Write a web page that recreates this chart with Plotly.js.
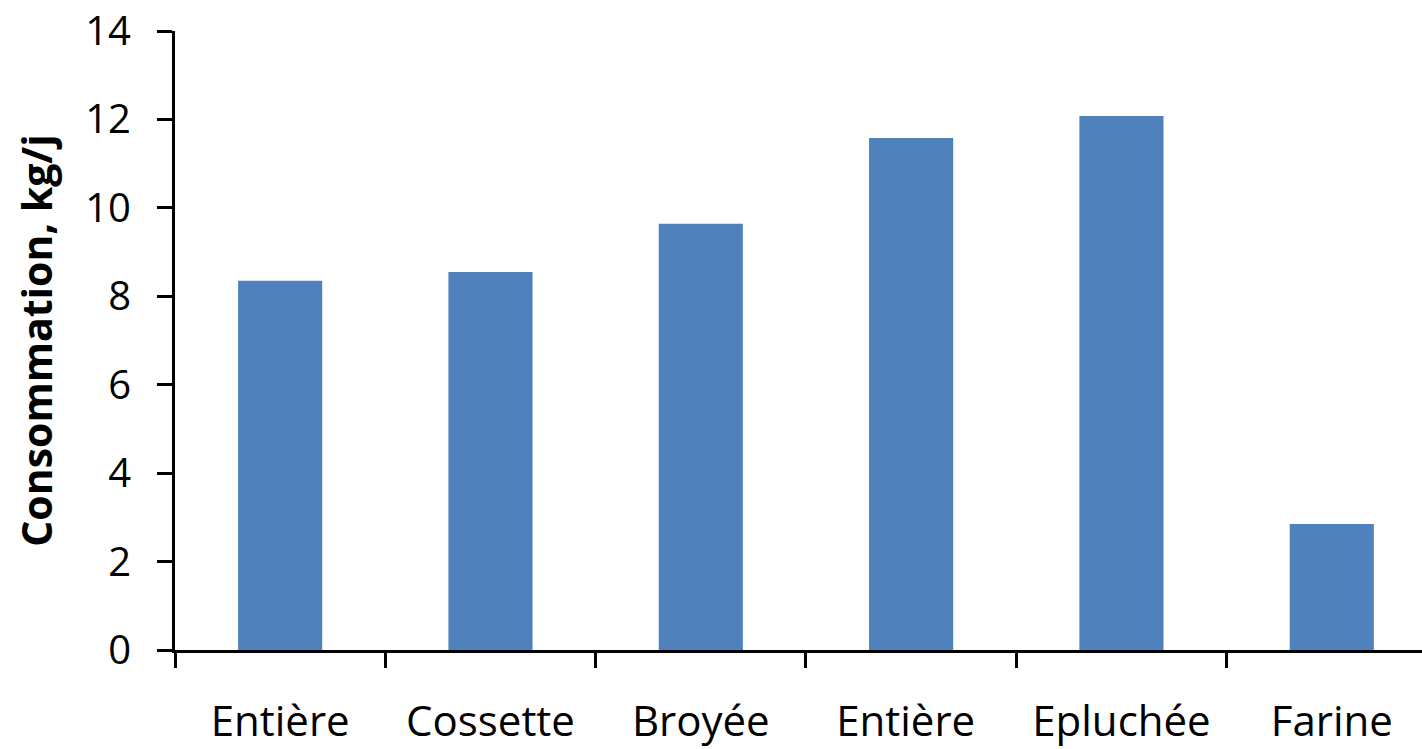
<!DOCTYPE html>
<html><head><meta charset="utf-8">
<script src="https://cdn.plot.ly/plotly-3.0.1.min.js"></script>
<style>html,body{margin:0;padding:0;background:#fff;overflow:hidden}</style>
</head><body>
<div id="chart" style="width:1422px;height:749px"></div>
<script>
const categories = ["Entière", "Cossette", "Broyée", "Entière ", "Epluchée", "Farine"];
const consommation = [8.35, 8.55, 9.64, 11.58, 12.08, 2.85];
const yTicks = [0, 2, 4, 6, 8, 10, 12, 14];

const font = "Open Sans, Noto Sans, sans-serif";
Plotly.newPlot("chart", [{
  type: "bar",
  x: categories,
  y: consommation,
  marker: {color: "#4f81bd"},
  hoverinfo: "x+y"
}], {
  width: 1422, height: 749,
  margin: {l: 175, r: 0, t: 31, b: 99},
  paper_bgcolor: "#fff", plot_bgcolor: "#fff",
  bargap: 0.6,
  showlegend: false,
  xaxis: {
    type: "category",
    range: [-0.5, 5.429],
    tickson: "boundaries",
    ticks: "outside", ticklen: 15, tickwidth: 3, tickcolor: "#000",
    showline: true, linecolor: "#000", linewidth: 3,
    showgrid: false, zeroline: false,
    ticklabelstandoff: 33,
    tickfont: {family: font, size: 42, color: "#000"}
  },
  yaxis: {
    range: [0, 14],
    tickvals: yTicks,
    ticks: "outside", ticklen: 15, tickwidth: 3, tickcolor: "#000",
    showline: true, linecolor: "#000", linewidth: 3,
    showgrid: false, zeroline: false,
    ticklabelstandoff: 18,
    tickfont: {family: font, size: 40, color: "#000"},
    title: {text: "<b>Consommation, kg/j</b>", font: {family: font, size: 41, color: "#000"}, standoff: 20}
  }
}, {displayModeBar: false, staticPlot: true});
</script>
</body></html>
